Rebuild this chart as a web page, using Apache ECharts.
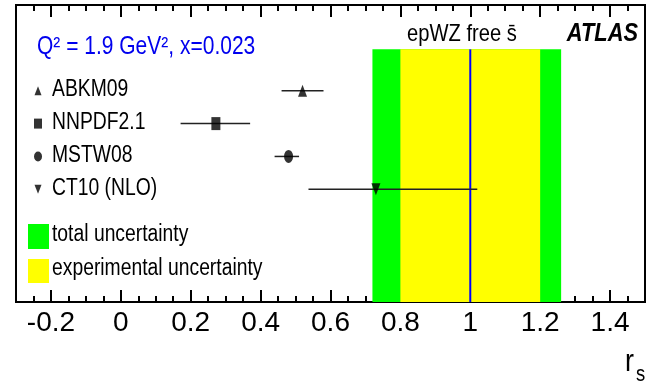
<!DOCTYPE html>
<html>
<head>
<meta charset="utf-8">
<script src="https://cdn.jsdelivr.net/npm/echarts@6/dist/echarts.min.js"></script>
<style>
html, body { margin: 0; padding: 0; background: #fff; }
#main { width: 650px; height: 384px; }
</style>
</head>
<body>
<div id="main"></div>
<script>
// r_s for each PDF set at Q2 = 1.9 GeV2, x = 0.023
var pdfNames = ['ABKM09', 'NNPDF2.1', 'MSTW08', 'CT10 (NLO)'];
var rsCentral = [0.52, 0.272, 0.48, 0.73];
var rsLow = [0.46, 0.171, 0.44, 0.537];
var rsHigh = [0.58, 0.37, 0.51, 1.02];
var pdfSymbols = ['triangle', 'rect', 'circle', 'triangle'];
var pdfRotate = [0, 0, 0, 180];

// epWZ free sbar fit
var fitValue = 1.0;
var totalBand = [0.72, 1.26];
var expBand = [0.80, 1.20];

var xMin = -0.3, xMax = 1.5;
var yMin = -2.61, yMax = 6.43;
var bandTop = -1.26;

var FONT = "'Liberation Sans', Arial, sans-serif";
var NARROW = 0.84; // reference text is a narrow helvetica

var markerData = [], barData = [], keyData = [];
for (var i = 0; i < pdfNames.length; i++) {
	markerData.push({
		value : [ rsCentral[i], i ],
		symbol : pdfSymbols[i],
		symbolRotate : pdfRotate[i],
		symbolSize : pdfSymbols[i] == 'triangle' ? [ 9, 12 ] : [ 9, 13 ]
	});
	barData.push([ rsLow[i], rsHigh[i], i ]);
	keyData.push({
		value : [ -0.237, i ],
		symbol : pdfSymbols[i],
		symbolRotate : pdfRotate[i],
		symbolSize : pdfSymbols[i] == 'triangle' ? [ 7, 9 ] : [ 8, 10 ]
	});
}

function label(txt, x, y, size, opts) {
	var s = { text : txt, fill : '#000', font : size + 'px ' + FONT,
		textVerticalAlign : 'middle' };
	for (var k in opts) s[k] = opts[k];
	return { type : 'text', x : x, y : y, scaleX : NARROW, style : s };
}

function frameAxis(pos, showLabels) {
	return {
		type : 'value',
		position : pos,
		min : xMin,
		max : xMax,
		splitNumber : 9,
		axisLine : { show : true, onZero : false, lineStyle : { color : '#000', width : 2 } },
		splitLine : { show : false },
		axisTick : { show : true, inside : true, length : 12, lineStyle : { color : '#000', width : 2 } },
		minorTick : { show : true, splitNumber : 4, length : 6, lineStyle : { color : '#000', width : 2 } },
		axisLabel : {
			show : showLabels,
			showMinLabel : false,
			showMaxLabel : false,
			margin : 7,
			color : '#000',
			fontSize : 28,
			fontFamily : FONT
		}
	};
}

var myChart = echarts.init(document.getElementById('main'));
var option = {
	animation : false,
	grid : {
		left : 16, right : 5, top : 5, bottom : 82,
		outerBoundsMode : 'none',
		show : true,
		borderColor : '#000',
		borderWidth : 2
	},
	xAxis : [ frameAxis('bottom', true), frameAxis('top', false) ],
	yAxis : {
		type : 'value',
		min : yMin,
		max : yMax,
		inverse : true,
		show : false
	},
	series : [ {
		// uncertainty bands and central fit line
		type : 'custom',
		silent : true,
		data : [ [ totalBand[0], totalBand[1], 0 ], [ expBand[0], expBand[1], 1 ] ],
		encode : { x : [ 0, 1 ] },
		renderItem : function(params, api) {
			var p0 = api.coord([ api.value(0), bandTop ]);
			var p1 = api.coord([ api.value(1), yMax ]);
			var rect = {
				type : 'rect',
				shape : { x : p0[0], y : p0[1], width : p1[0] - p0[0], height : p1[1] - p0[1] },
				style : { fill : api.value(2) == 0 ? '#00ff00' : '#ffff00' }
			};
			if (api.value(2) == 0) return rect;
			var l0 = api.coord([ fitValue, bandTop ]);
			var l1 = api.coord([ fitValue, yMax ]);
			return {
				type : 'group',
				children : [ rect, {
					type : 'line',
					shape : { x1 : l0[0], y1 : l0[1], x2 : l1[0], y2 : l1[1] },
					style : { stroke : '#0000ff', lineWidth : 2 }
				} ]
			};
		}
	}, {
		// horizontal error bars
		type : 'custom',
		silent : true,
		data : barData,
		encode : { x : [ 0, 1 ], y : 2 },
		renderItem : function(params, api) {
			var a = api.coord([ api.value(0), api.value(2) ]);
			var b = api.coord([ api.value(1), api.value(2) ]);
			return {
				type : 'line',
				shape : { x1 : a[0], y1 : a[1], x2 : b[0], y2 : b[1] },
				style : { stroke : '#222', lineWidth : 1.5 }
			};
		}
	}, {
		type : 'scatter',
		silent : true,
		data : markerData,
		itemStyle : { color : '#000' }
	}, {
		// key markers on the left
		type : 'scatter',
		silent : true,
		data : keyData,
		itemStyle : { color : '#000' }
	} ],
	graphic : [
		label('Q\u00b2 = 1.9 GeV\u00b2, x=0.023', 37, 47, 25, { fill : '#0000ee' }),
		label('epWZ free s\u0304', 462, 34, 24, { textAlign : 'center' }),
		label('ATLAS', 638, 34, 26, { textAlign : 'right', font : 'italic bold 26px ' + FONT }),
		{ type : 'rect', shape : { x : 28, y : 224, width : 21, height : 25 }, style : { fill : '#00ff00' } },
		label('total uncertainty', 52, 235, 23),
		{ type : 'rect', shape : { x : 28, y : 259, width : 21, height : 24 }, style : { fill : '#ffff00' } },
		label('experimental uncertainty', 52, 269, 23),
		label('r', 625, 362, 32),
		label('s', 636, 375, 22)
	]
};
for (var j = 0; j < pdfNames.length; j++) {
	option.graphic.push(label(pdfNames[j], 52, 90 + 32.9 * j, 23));
}
myChart.setOption(option);
</script>
</body>
</html>
